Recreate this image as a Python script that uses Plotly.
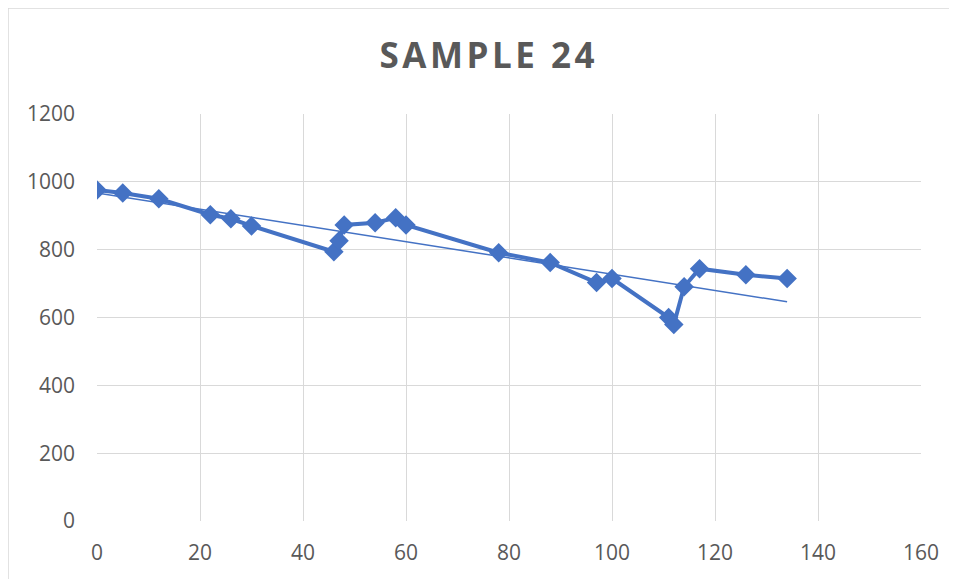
import numpy as np
import plotly.graph_objects as go

# values
x_vals = [0, 5, 12, 22, 26, 30, 46, 47, 48, 54, 58, 60, 78, 88, 97, 100, 111, 112, 114, 117, 126, 134]
y_vals = [976, 967, 950, 903, 891, 870, 794, 826, 873, 879, 894, 873, 791, 762, 703, 715, 600, 579, 691, 744, 726, 715]

x_ticks = [0, 20, 40, 60, 80, 100, 120, 140, 160]
y_ticks = [0, 200, 400, 600, 800, 1000, 1200]

BLUE = "#4472C4"
GRID = "#d9d9d9"
TEXT = "#595959"
FONT = "Open Sans"

# the page puts the figure 8px in from the top-left corner
OFF = 8
L, T, R, B = 97 - OFF, 114 - OFF, 36 + OFF, 58 + OFF
PW, PH = 957 - L - R, 579 - T - B

# linear trendline, as Excel computes it
slope, intercept = np.polyfit(x_vals, y_vals, 1)
trend_x = [min(x_vals), max(x_vals)]
trend_y = [slope * v + intercept for v in trend_x]

fig = go.Figure()
fig.add_trace(
    go.Scatter(
        x=trend_x,
        y=trend_y,
        mode="lines",
        line=dict(color=BLUE, width=1.5),
        hoverinfo="skip",
    )
)
fig.add_trace(
    go.Scatter(
        x=x_vals,
        y=y_vals,
        mode="lines+markers",
        line=dict(color=BLUE, width=4),
        marker=dict(symbol="diamond", size=15, color=BLUE),
    )
)

title_text = "\u200a".join("SAMPLE 24")

fig.update_layout(
    template="plotly_white",
    width=957,
    height=579,
    showlegend=False,
    paper_bgcolor="white",
    plot_bgcolor="white",
    margin={"l": L, "r": R, "t": T, "b": B},
    font=dict(family=FONT, size=21, color=TEXT),
    title=dict(
        text="<b>" + title_text + "</b>",
        x=(487 - OFF) / 957,
        xref="container",
        xanchor="center",
        y=1 - (56 - OFF) / 579,
        yanchor="middle",
        font=dict(family=FONT, size=35, color=TEXT),
    ),
    shapes=[
        dict(
            type="rect",
            xref="paper",
            yref="paper",
            x0=-L / PW,
            x1=1 + (R + 20) / PW,
            y0=-(B + 20) / PH,
            y1=1 + T / PH,
            line=dict(color=GRID, width=1.5),
        )
    ],
)
fig.update_xaxes(
    range=[0, 160],
    tickvals=x_ticks,
    showgrid=True,
    gridcolor=GRID,
    gridwidth=1,
    zeroline=False,
    showline=False,
    ticks="",
    automargin=False,
    ticklabelstandoff=17,
    tickfont=dict(size=21, color=TEXT),
)
fig.update_yaxes(
    range=[0, 1200],
    tickvals=y_ticks,
    showgrid=True,
    gridcolor=GRID,
    gridwidth=1,
    zeroline=False,
    showline=False,
    ticks="",
    automargin=False,
    ticklabelstandoff=21,
    tickfont=dict(size=21, color=TEXT),
)

fig.write_html("out.html")
